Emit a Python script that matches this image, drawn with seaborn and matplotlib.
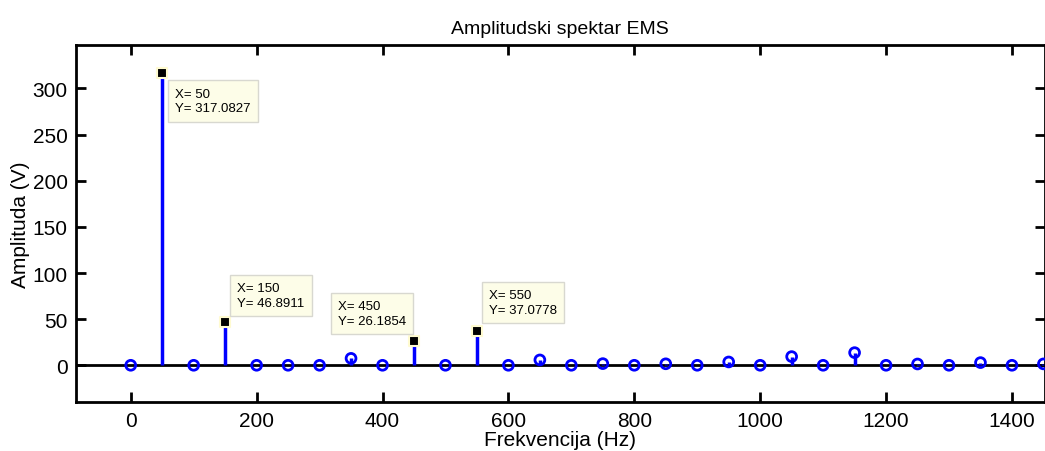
import numpy as np
import pandas as pd
import matplotlib
matplotlib.use("Agg")
import matplotlib.pyplot as plt
import seaborn as sns

freq = [0, 50, 100, 150, 200, 250, 300, 350, 400, 450, 500, 550, 600, 650, 700,
        750, 800, 850, 900, 950, 1000, 1050, 1100, 1150, 1200, 1250, 1300, 1350, 1400, 1450]
amp = [0.0, 317.0827, 0.0, 46.8911, 0.0, 0.0, 0.0, 7.5, 0.0, 26.1854, 0.0, 37.0778, 0.0, 5.8, 0.0,
       1.8, 0.0, 1.6, 0.0, 3.6, 0.0, 9.4, 0.0, 13.7, 0.0, 1.4, 0.0, 2.9, 0.0, 1.5]
marked_x = [50, 150, 450, 550]
marked_y = [317.0827, 46.8911, 26.1854, 37.0778]
label_offsets = [(13, -15), (12, 40), (-76, 41), (12, 42)]

sns.set_theme(style="white")
plt.rcParams['font.family'] = ['Liberation Sans', 'DejaVu Sans']
plt.rcParams['text.color'] = 'black'
plt.rcParams['axes.labelcolor'] = 'black'
plt.rcParams['xtick.color'] = 'black'
plt.rcParams['ytick.color'] = 'black'

df = pd.DataFrame({"f": freq, "a": amp})
df_open = df[~df["f"].isin(marked_x)]

fig = plt.figure(figsize=(10.45, 4.52), dpi=100)
ax = fig.add_axes([0.0727, 0.108, 0.927, 0.79])

ax.axhline(0, color="black", lw=2, zorder=1)
ax.vlines(df["f"], 0, df["a"], color="blue", lw=2.5, zorder=2)
sns.scatterplot(data=df_open, x="f", y="a", ax=ax, marker="o", s=50,
                facecolor="none", edgecolor="blue", linewidth=2, zorder=3, legend=False)
ax.scatter(marked_x, marked_y, marker="s", s=50, color="black",
           edgecolor="#fffbd0", linewidth=1.5, zorder=4)

for x, y, (dx, dy) in zip(marked_x, marked_y, label_offsets):
    ax.annotate(f"X= {x}\nY= {y:.4f}", xy=(x, y), xytext=(dx, dy),
                textcoords="offset pixels", ha="left", va="top", fontsize=9.5,
                linespacing=1.3,
                bbox=dict(boxstyle="square,pad=0.55", fc="#fdfde8", ec="#d8d8d0", lw=1),
                zorder=5)

ax.set_xlim(-87, 1452)
ax.set_ylim(-40, 347)
ax.set_xticks([0, 200, 400, 600, 800, 1000, 1200, 1400])
ax.set_yticks([0, 50, 100, 150, 200, 250, 300])
ax.tick_params(direction="in", length=7, width=2, labelsize=15, pad=6,
               top=True, right=True, bottom=True, left=True, color="black")
for s in ax.spines.values():
    s.set_linewidth(2)
    s.set_color("black")
ax.set_xlabel("Frekvencija (Hz)", fontsize=15, labelpad=0)
ax.set_ylabel("Amplituda (V)", fontsize=15, labelpad=2)
ax.set_title("Amplitudski spektar EMS", fontsize=14, pad=9)

fig.savefig("out.png", dpi=100)
